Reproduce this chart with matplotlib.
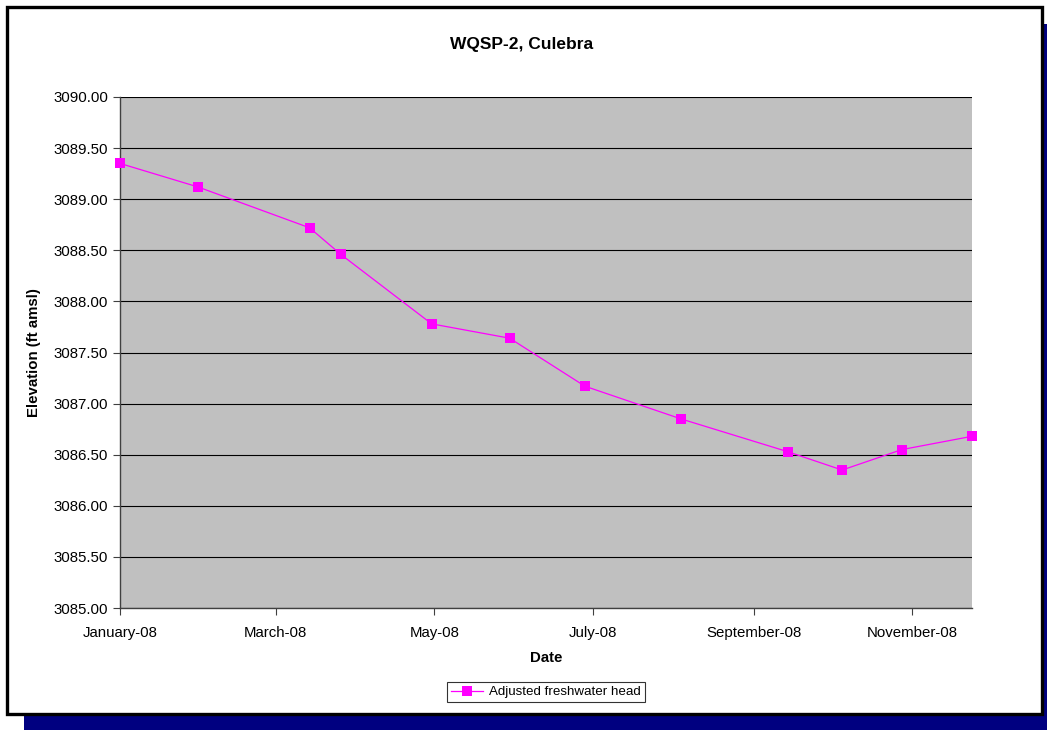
import numpy as np
import pandas as pd
import matplotlib
matplotlib.use("Agg")
import matplotlib.pyplot as plt
import matplotlib.dates as mdates
from matplotlib.patches import Rectangle

plt.rcParams['font.family'] = ['Liberation Sans', 'DejaVu Sans']

# WQSP-2 Culebra monitoring, 2008
dates = pd.to_datetime([
    "2008-01-01", "2008-01-31", "2008-03-14", "2008-03-26", "2008-04-30",
    "2008-05-30", "2008-06-28", "2008-08-04", "2008-09-14", "2008-10-05",
    "2008-10-28", "2008-11-24",
])
head = [3089.35, 3089.12, 3088.72, 3088.46, 3087.78, 3087.64,
        3087.17, 3086.85, 3086.53, 3086.35, 3086.55, 3086.68]
tick_dates = pd.to_datetime(["2008-01-01", "2008-03-01", "2008-05-01",
                             "2008-07-01", "2008-09-01", "2008-11-01"])

W, H = 1047, 730
fig = plt.figure(figsize=(W / 100, H / 100), dpi=100)

# shadow + outer frame
fig.patches.append(Rectangle((24 / W, 0), (W - 24) / W, (H - 24) / H,
                             transform=fig.transFigure, facecolor='#000080',
                             edgecolor='none', zorder=0))
fig.patches.append(Rectangle((6.5 / W, (H - 713.5) / H), 1035 / W, 707 / H,
                             transform=fig.transFigure, facecolor='white',
                             edgecolor='black', linewidth=2.4, zorder=1))

ax = fig.add_axes([120 / W, (H - 608) / H, 852 / W, 511 / H])
ax.set_zorder(2)
ax.set_facecolor('#c0c0c0')
ax.plot(dates, head, color='#ff00ff', linewidth=0.9, marker='s',
        markersize=7, markeredgewidth=0, clip_on=False, zorder=3,
        label='Adjusted freshwater head')

ax.set_xlim(dates[0], dates[-1])
ax.set_ylim(3085, 3090)
ax.set_yticks(np.arange(3085, 3090.01, 0.5))
ax.yaxis.set_major_formatter(plt.FuncFormatter(lambda v, p: f"{v:.2f}"))
ax.set_xticks(tick_dates)
ax.xaxis.set_major_formatter(mdates.DateFormatter('%B-%y'))
ax.grid(axis='y', color='black', linewidth=0.8)
ax.set_axisbelow(True)

for s in ['top', 'right']:
    ax.spines[s].set_visible(False)
for s in ['left', 'bottom']:
    ax.spines[s].set_color('#404040')
    ax.spines[s].set_linewidth(1.0)
ax.tick_params(axis='both', direction='out', length=5, width=0.8,
               labelsize=10.8, color='#404040')
ax.tick_params(axis='x', pad=8)

ax.set_xlabel('Date', fontsize=10.8, fontweight='bold', labelpad=8)
ax.set_ylabel('Elevation (ft amsl)', fontsize=10.8, fontweight='bold', labelpad=9)
fig.text(522 / W, (H - 44) / H, 'WQSP-2, Culebra', ha='center', va='center',
         fontsize=12.5, fontweight='bold', zorder=3)

leg = fig.legend(loc='center', bbox_to_anchor=(546 / W, (H - 692) / H),
                 frameon=True, fancybox=False, fontsize=9.6, handlelength=2.4,
                 borderpad=0.3, handletextpad=0.4, markerscale=0.95)
leg.set_zorder(3)
leg.get_frame().set_edgecolor('black')
leg.get_frame().set_linewidth(0.8)

fig.savefig('out.png', dpi=100)
